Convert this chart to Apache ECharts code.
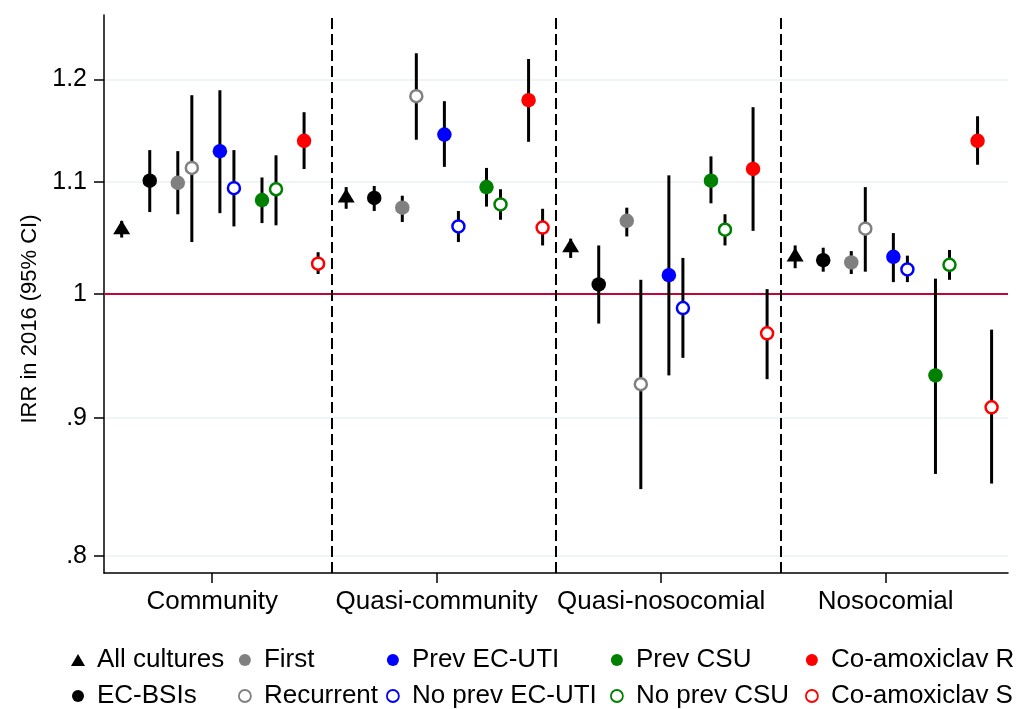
<!DOCTYPE html>
<html>
<head>
<meta charset="utf-8">
<script src="https://cdn.jsdelivr.net/npm/echarts@6.0.0/dist/echarts.min.js"></script>
<style>
  html, body { margin: 0; padding: 0; background: #fff; }
  #chart { width: 1019px; height: 709px; }
</style>
</head>
<body>
<div id="chart"></div>
<script>
// groups along the x axis
const categories = ["Community", "Quasi-community", "Quasi-nosocomial", "Nosocomial"];

// y ticks (IRR, drawn on a log scale)
const yTickValues = [0.8, 0.9, 1, 1.1, 1.2];
const yTickLabels = [".8", ".9", "1", "1.1", "1.2"];

// [IRR, lower 95% CI, upper 95% CI] for each group
const allCultures   = [[1.056, 1.049, 1.064], [1.085, 1.075, 1.095], [1.040, 1.031, 1.048], [1.032, 1.022, 1.042]];
const ecBsis        = [[1.101, 1.072, 1.130], [1.085, 1.073, 1.096], [1.008, 0.975, 1.042], [1.029, 1.019, 1.040]];
const first         = [[1.099, 1.070, 1.129], [1.076, 1.063, 1.087], [1.064, 1.050, 1.076], [1.027, 1.017, 1.037]];
const recurrent     = [[1.113, 1.045, 1.184], [1.183, 1.140, 1.227], [0.926, 0.847, 1.012], [1.057, 1.019, 1.095]];
const prevEcUti     = [[1.129, 1.071, 1.189], [1.145, 1.114, 1.178], [1.016, 0.933, 1.106], [1.032, 1.010, 1.053]];
const noPrevEcUti   = [[1.094, 1.059, 1.130], [1.059, 1.045, 1.073], [0.988, 0.947, 1.031], [1.021, 1.010, 1.033]];
const prevCsu       = [[1.083, 1.062, 1.104], [1.095, 1.077, 1.113], [1.101, 1.080, 1.124], [0.933, 0.858, 1.013]];
const noPrevCsu     = [[1.093, 1.060, 1.125], [1.079, 1.065, 1.093], [1.056, 1.042, 1.070], [1.025, 1.012, 1.038]];
const coAmoxR       = [[1.139, 1.112, 1.167], [1.179, 1.138, 1.221], [1.112, 1.055, 1.172], [1.139, 1.116, 1.163]];
const coAmoxS       = [[1.026, 1.017, 1.036], [1.058, 1.042, 1.075], [0.967, 0.930, 1.004], [0.908, 0.851, 0.970]];

// series setup: name, data, colour, marker, hollow, slot inside a group
const seriesDefs = [
  { name: "All cultures",    data: allCultures, color: "#000000", symbol: "triangle", hollow: false, slot: 1 },
  { name: "EC-BSIs",         data: ecBsis,      color: "#000000", symbol: "circle",   hollow: false, slot: 3 },
  { name: "First",           data: first,       color: "#808080", symbol: "circle",   hollow: false, slot: 5 },
  { name: "Recurrent",       data: recurrent,   color: "#808080", symbol: "circle",   hollow: true,  slot: 6 },
  { name: "Prev EC-UTI",     data: prevEcUti,   color: "#0000ff", symbol: "circle",   hollow: false, slot: 8 },
  { name: "No prev EC-UTI",  data: noPrevEcUti, color: "#0000ff", symbol: "circle",   hollow: true,  slot: 9 },
  { name: "Prev CSU",        data: prevCsu,     color: "#008000", symbol: "circle",   hollow: false, slot: 11 },
  { name: "No prev CSU",     data: noPrevCsu,   color: "#008000", symbol: "circle",   hollow: true,  slot: 12 },
  { name: "Co-amoxiclav R",  data: coAmoxR,     color: "#ff0000", symbol: "circle",   hollow: false, slot: 14 },
  { name: "Co-amoxiclav S",  data: coAmoxS,     color: "#ff0000", symbol: "circle",   hollow: true,  slot: 15 }
];

const GROUP = 16;   // x units per group
const FONT = "Liberation Sans, Arial, Helvetica, sans-serif";

const xTicks = categories.map((c, g) => g * GROUP + 7.45);
const dividers = [15.95, 31.95, 47.95];

// error bars, all series together
const ciData = [];
seriesDefs.forEach(s => {
  s.data.forEach((d, g) => {
    ciData.push([g * GROUP + s.slot, Math.log(d[1]), Math.log(d[2])]);
  });
});

const series = [];

series.push({
  type: "custom",
  z: 2,
  silent: true,
  data: ciData,
  encode: { x: 0, y: [1, 2] },
  renderItem: function (params, api) {
    const x = api.value(0);
    const p1 = api.coord([x, api.value(1)]);
    const p2 = api.coord([x, api.value(2)]);
    return {
      type: "line",
      shape: { x1: p1[0], y1: p1[1], x2: p2[0], y2: p2[1] },
      style: { stroke: "#000", lineWidth: 3 }
    };
  },
  markLine: {
    silent: true,
    z: 1,
    symbol: "none",
    label: { show: false },
    animation: false,
    data: [
      { yAxis: 0, lineStyle: { color: "#c10534", width: 2, type: "solid" } },
      ...dividers.map(v => ({ xAxis: v, lineStyle: { color: "#000", width: 2, type: [11, 5] } }))
    ]
  }
});

seriesDefs.forEach(s => {
  series.push({
    name: s.name,
    type: "scatter",
    z: 3,
    symbol: s.symbol,
    symbolSize: s.symbol === "triangle" ? [17, 14] : (s.hollow ? 12 : 14.5),
    symbolOffset: s.symbol === "triangle" ? [0, -2.4] : [0, 0],
    itemStyle: s.hollow
      ? { color: "#fff", borderColor: s.color, borderWidth: 2.5, opacity: 1 }
      : { color: s.color, opacity: 1 },
    data: s.data.map((d, g) => [g * GROUP + s.slot, Math.log(d[0])])
  });
});

// legend laid out in five columns of two
const legendCols = [
  { left: 71,  names: ["All cultures", "EC-BSIs"] },
  { left: 238, names: ["First", "Recurrent"] },
  { left: 386, names: ["Prev EC-UTI", "No prev EC-UTI"] },
  { left: 610, names: ["Prev CSU", "No prev CSU"] },
  { left: 805, names: ["Co-amoxiclav R", "Co-amoxiclav S"] }
];

const legend = legendCols.map(col => ({
  orient: "vertical",
  left: col.left,
  top: 647,
  height: 120,
  itemGap: 10,
  itemWidth: 28,
  itemHeight: 12,
  symbolKeepAspect: true,
  selectedMode: false,
  padding: 0,
  textStyle: { fontSize: 26, lineHeight: 24, color: "#000", fontFamily: FONT },
  data: col.names.map(n => {
    const def = seriesDefs.find(s => s.name === n);
    if (def.symbol === "triangle") {
      return { name: n, icon: "path://M7,0 L14,12 L0,12 Z" };
    }
    return def.hollow
      ? { name: n, itemStyle: { borderWidth: 1.8 } }
      : { name: n };
  })
}));

const chart = echarts.init(document.getElementById("chart"), null, { renderer: "canvas" });
chart.setOption({
  animation: false,
  backgroundColor: "#fff",
  textStyle: { fontFamily: FONT },
  grid: { left: 104, right: 11, top: 15, bottom: 136, containLabel: false },
  legend: legend,
  xAxis: {
    type: "value",
    min: -0.26,
    max: 64.17,
    axisLine: { show: true, onZero: false, lineStyle: { color: "#000", width: 1.5 } },
    axisTick: { show: true, length: 10, customValues: xTicks, lineStyle: { color: "#000", width: 1.5 } },
    axisLabel: {
      customValues: xTicks,
      formatter: v => categories[Math.floor(v / GROUP)],
      fontSize: 26,
      color: "#000",
      margin: 16,
      fontFamily: FONT
    },
    splitLine: { show: false }
  },
  yAxis: {
    type: "value",
    min: -0.2374,
    max: 0.2371,
    name: "IRR in 2016 (95% CI)",
    nameLocation: "middle",
    nameGap: 60,
    nameTextStyle: { fontSize: 22, color: "#000", fontFamily: FONT, padding: [0, 50, 0, 0] },
    axisLine: { show: true, onZero: false, lineStyle: { color: "#000", width: 1.5 } },
    axisTick: { show: true, length: 10, customValues: yTickValues.map(Math.log), lineStyle: { color: "#000", width: 1.5 } },
    axisLabel: {
      customValues: yTickValues.map(Math.log),
      formatter: v => {
        let best = 0;
        yTickValues.forEach((t, i) => {
          if (Math.abs(Math.log(t) - v) < Math.abs(Math.log(yTickValues[best]) - v)) best = i;
        });
        return yTickLabels[best];
      },
      fontSize: 25,
      color: "#000",
      margin: 17,
      fontFamily: FONT
    },
    splitLine: { show: true, lineStyle: { color: "#eaf2f3", width: 1.5 } }
  },
  series: series
});
</script>
</body>
</html>
